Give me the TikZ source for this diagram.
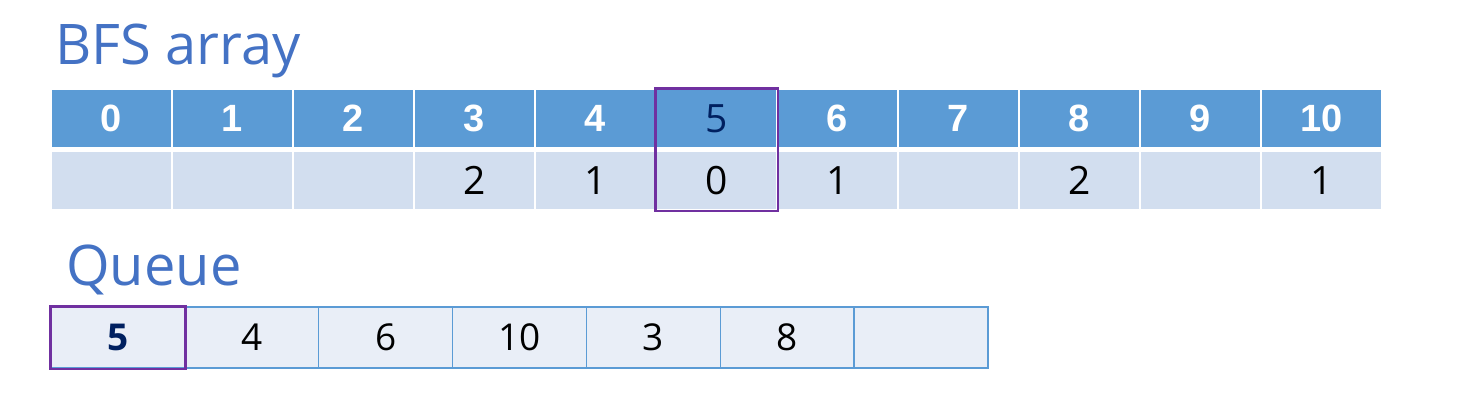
\documentclass[tikz,border=0pt]{standalone}
\usepackage{fontspec}
\setmainfont{Open Sans}
\newfontfamily\headfont{Liberation Sans}
\usepackage{tikz}
\usetikzlibrary{positioning}

\definecolor{headblue}{HTML}{5B9BD5}
\definecolor{cellblue}{HTML}{D2DEEF}
\definecolor{queueblue}{HTML}{E9EEF7}
\definecolor{markpurple}{HTML}{7030A0}
\definecolor{darknavy}{HTML}{002060}
\definecolor{titleblue}{HTML}{4472C4}

\tikzset{
  hcell/.style={rectangle, fill=headblue, draw=white, line width=1.5pt, minimum width=121pt, minimum height=59pt, inner sep=0pt,
    text=white, font=\headfont\bfseries\fontsize{38}{40}\selectfont},
  vcell/.style={rectangle, fill=cellblue, draw=white, line width=1.5pt, minimum width=121pt, minimum height=59pt, inner sep=0pt,
    font=\fontsize{39}{41}\selectfont},
  qcell/.style={rectangle, fill=queueblue, draw=headblue, line width=1.5pt, minimum width=133.86pt, minimum height=61pt, inner sep=0pt,
    font=\fontsize{37}{39}\selectfont},
  markbox/.style={draw=markpurple, line width=2.5pt},
  titletext/.style={text=titleblue, inner sep=0pt, anchor=base west, font=\fontsize{56}{58}\selectfont}
}

\begin{document}
\begin{tikzpicture}[x=1pt, y=-1pt]
\useasboundingbox (0,0) rectangle (1473,402);

% titles
\node[titletext] (bfstitle) at (55,64) {BFS array};
\node[titletext] (queuetitle) at (66,285) {Queue};

% BFS array: index row and distance row
\foreach \i/\t/\d in {0/0/,1/1/,2/2/,3/3/2,4/4/1,5//0,6/6/1,7/7/,8/8/2,9/9/,10/10/1} {
  \node[hcell] (h\i) at ({111.5+121*\i},118.5) {\t};
  \node[vcell] (v\i) at ({111.5+121*\i},180.5) {\d};
}
\node[font=\fontsize{39}{41}\selectfont, text=darknavy] (hmark) at (h5) {5};
\draw[markbox] (h5.north west) rectangle (v5.south east);

% queue
\foreach \j/\q in {0/,1/4,2/6,3/10,4/3,5/8,6/} {
  \node[qcell] (q\j) at ({117.93+133.86*\j},337.5) {\q};
}
\node[font=\bfseries\fontsize{37}{39}\selectfont, text=darknavy] (qhead) at (q0) {5};
\draw[markbox] (q0.north west) rectangle (q0.south east);
\end{tikzpicture}
\end{document}
